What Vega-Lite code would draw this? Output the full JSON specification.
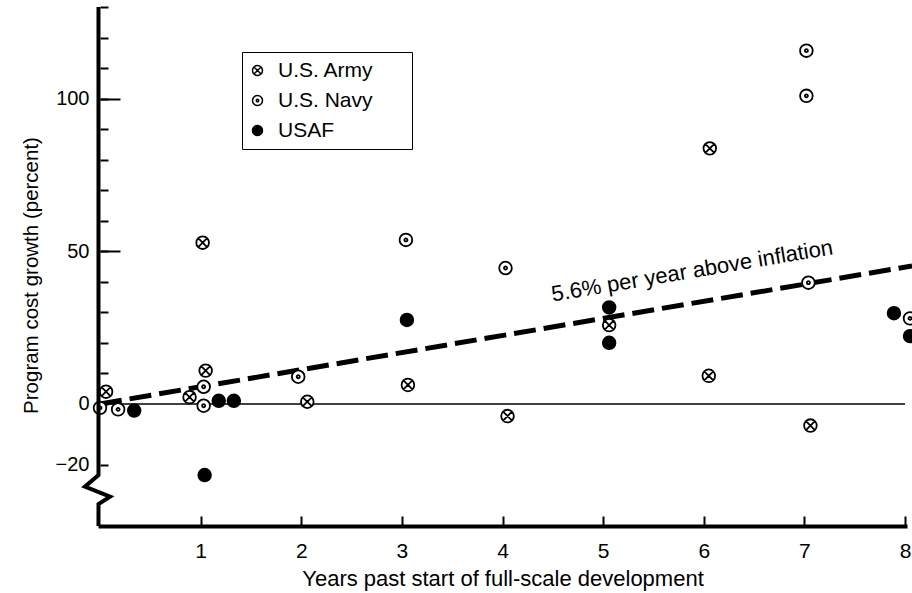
{
  "$schema": "https://vega.github.io/schema/vega-lite/v6.json",
  "width": 805,
  "height": 519,
  "autosize": {"type": "none"},
  "padding": {"left": 100, "top": 7, "right": 7, "bottom": 67},
  "background": "white",
  "config": {
    "view": {"stroke": null},
    "font": "Liberation Sans",
    "axis": {
      "grid": false,
      "labelColor": "black",
      "titleColor": "black",
      "tickColor": "black",
      "domainColor": "black",
      "labelFont": "Liberation Sans",
      "titleFont": "Liberation Sans",
      "titleFontWeight": "normal",
      "labelFlush": false,
      "labelOverlap": false
    },
    "legend": {
      "labelFont": "Liberation Sans",
      "labelColor": "black",
      "titleFont": "Liberation Sans"
    }
  },
  "datasets": {
    "programs": [
      {"service": "U.S. Army", "year": 0.06, "growth": 4.0},
      {"service": "U.S. Army", "year": 0.89, "growth": 2.2},
      {"service": "U.S. Army", "year": 1.05, "growth": 10.9},
      {"service": "U.S. Army", "year": 1.02, "growth": 52.8},
      {"service": "U.S. Army", "year": 2.06, "growth": 0.7},
      {"service": "U.S. Army", "year": 3.06, "growth": 6.2},
      {"service": "U.S. Army", "year": 4.05, "growth": -4.0},
      {"service": "U.S. Army", "year": 5.06, "growth": 25.8},
      {"service": "U.S. Army", "year": 6.05, "growth": 9.2},
      {"service": "U.S. Army", "year": 6.06, "growth": 83.7},
      {"service": "U.S. Army", "year": 7.06, "growth": -7.1},
      {"service": "U.S. Navy", "year": 0.0, "growth": -1.3},
      {"service": "U.S. Navy", "year": 0.18, "growth": -1.8},
      {"service": "U.S. Navy", "year": 1.03, "growth": 5.6},
      {"service": "U.S. Navy", "year": 1.03, "growth": -0.6},
      {"service": "U.S. Navy", "year": 1.97, "growth": 8.9},
      {"service": "U.S. Navy", "year": 3.04, "growth": 53.7},
      {"service": "U.S. Navy", "year": 4.03, "growth": 44.5},
      {"service": "U.S. Navy", "year": 7.04, "growth": 39.7},
      {"service": "U.S. Navy", "year": 7.02, "growth": 115.7},
      {"service": "U.S. Navy", "year": 7.02, "growth": 100.9},
      {"service": "U.S. Navy", "year": 8.05, "growth": 28.0},
      {"service": "USAF", "year": 0.34, "growth": -2.2},
      {"service": "USAF", "year": 1.18, "growth": 1.0},
      {"service": "USAF", "year": 1.33, "growth": 1.0},
      {"service": "USAF", "year": 1.04, "growth": -23.3},
      {"service": "USAF", "year": 3.05, "growth": 27.5},
      {"service": "USAF", "year": 5.06, "growth": 31.6},
      {"service": "USAF", "year": 5.06, "growth": 20.0},
      {"service": "USAF", "year": 7.89, "growth": 29.7},
      {"service": "USAF", "year": 8.05, "growth": 22.2}
    ],
    "trend": [
      {"year": 0, "growth": 0},
      {"year": 8.07, "growth": 45.19}
    ],
    "trendLabel": [
      {"year": 4.5, "growth": 33.5, "label": "5.6% per year above inflation"}
    ],
    "spine": [
      {"seq": 1, "year": -0.015, "growth": 130},
      {"seq": 2, "year": -0.015, "growth": -23.3},
      {"seq": 3, "year": -0.15, "growth": -27.1},
      {"seq": 4, "year": 0.1, "growth": -30.4},
      {"seq": 5, "year": -0.015, "growth": -32.8},
      {"seq": 6, "year": -0.015, "growth": -40}
    ]
  },
  "resolve": {"axis": {"y": "independent"}},
  "layer": [
    {
      "data": {"values": [{}]},
      "mark": {"type": "rule", "color": "black", "strokeWidth": 1.5},
      "encoding": {
        "y": {"datum": 0, "type": "quantitative", "axis": null},
        "x": {"datum": 0, "type": "quantitative"},
        "x2": {"datum": 8}
      }
    },
    {
      "data": {"name": "trend"},
      "mark": {"type": "line", "color": "black", "strokeWidth": 5, "strokeDash": [22, 8], "strokeCap": "butt"},
      "encoding": {
        "x": {"field": "year", "type": "quantitative"},
        "y": {
          "field": "growth",
          "type": "quantitative",
          "axis": {
            "orient": "left",
            "values": [50, 100],
            "labels": false,
            "domain": false,
            "title": null,
            "tickSize": -20,
            "tickWidth": 2,
            "offset": 0
          }
        }
      }
    },
    {
      "data": {"name": "trendLabel"},
      "mark": {"type": "text", "align": "left", "baseline": "alphabetic", "angle": -9.6, "fontSize": 22, "font": "Liberation Sans", "color": "black"},
      "encoding": {
        "x": {"field": "year", "type": "quantitative"},
        "y": {"field": "growth", "type": "quantitative", "axis": null},
        "text": {"field": "label"}
      }
    },
    {
      "data": {"name": "programs"},
      "mark": {"type": "point", "filled": true, "opacity": 1, "stroke": "black", "strokeWidth": 1.8, "size": 160},
      "encoding": {
        "x": {
          "field": "year",
          "type": "quantitative",
          "scale": {"domain": [0, 8], "nice": false, "zero": false},
          "axis": {
            "title": "Years past start of full-scale development",
            "values": [1, 2, 3, 4, 5, 6, 7, 8],
            "format": "d",
            "tickSize": -10,
            "tickWidth": 2,
            "domainWidth": 4,
            "domainCap": "square",
            "labelPadding": 24,
            "labelFontSize": 21,
            "titleFontSize": 22,
            "titlePadding": 7
          }
        },
        "y": {
          "field": "growth",
          "type": "quantitative",
          "scale": {"domain": [-40, 130], "nice": false, "zero": false},
          "axis": {
            "orient": "left",
            "title": "Program cost growth (percent)",
            "values": [-20, 0, 10, 20, 30, 40, 50, 60, 70, 80, 90, 100, 110, 120, 130],
            "labelExpr": "indexof([-20, 0, 50, 100], datum.value) >= 0 ? datum.label : ''",
            "labelOverlap": false,
            "domain": false,
            "tickSize": -8,
            "tickWidth": 2,
            "labelPadding": 19,
            "labelFontSize": 20,
            "titleFontSize": 20.5,
            "titlePadding": 14,
            "titleY": 268
          }
        },
        "shape": {
          "field": "service",
          "type": "nominal",
          "scale": {
            "domain": ["U.S. Army", "U.S. Navy", "USAF"],
            "range": [
              "M1,0A1,1,0,1,1,-1,0A1,1,0,1,1,1,0ZM-0.7071,-0.7071L0.7071,0.7071M-0.7071,0.7071L0.7071,-0.7071",
              "M1,0A1,1,0,1,1,-1,0A1,1,0,1,1,1,0ZM0.24,0A0.24,0.24,0,1,1,-0.24,0A0.24,0.24,0,1,1,0.24,0Z",
              "circle"
            ]
          },
          "legend": {"title": " "}
        },
        "fill": {
          "field": "service",
          "type": "nominal",
          "scale": {"domain": ["U.S. Army", "U.S. Navy", "USAF"], "range": ["white", "white", "black"]},
          "legend": {
            "title": " ",
            "orient": "none",
            "legendX": 142,
            "legendY": 45,
            "strokeColor": "black",
            "fillColor": "white",
            "padding": 8,
            "rowPadding": 8,
            "symbolSize": 100,
            "symbolStrokeColor": "black",
            "symbolStrokeWidth": 1.5,
            "symbolOpacity": 1,
            "symbolOffset": -3,
            "labelFontSize": 21,
            "labelOffset": 10,
            "titleOrient": "right",
            "titlePadding": 30,
            "titleFontSize": 10
          }
        }
      }
    },
    {
      "data": {"name": "spine"},
      "mark": {"type": "line", "color": "black", "strokeWidth": 4, "strokeJoin": "miter", "strokeCap": "butt"},
      "encoding": {
        "x": {"field": "year", "type": "quantitative"},
        "y": {"field": "growth", "type": "quantitative", "axis": null},
        "order": {"field": "seq"}
      }
    }
  ]
}
